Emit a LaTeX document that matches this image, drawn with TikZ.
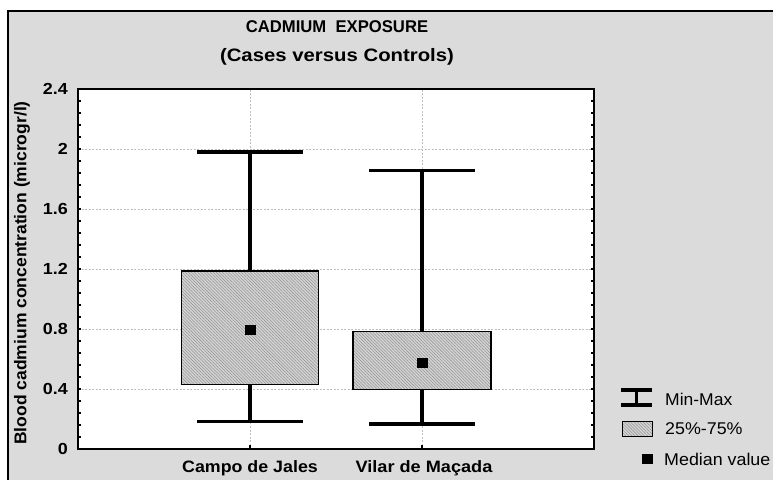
\documentclass[tikz,border=0pt]{standalone}
\usepackage{fontspec}
\setmainfont{Liberation Sans}
\usetikzlibrary{patterns.meta}
\newcommand{\hsc}[2]{\scalebox{#1}[1]{#2}}
\begin{document}
\begin{tikzpicture}[x=1pt,y=1pt,
  axisline/.style={line width=1.8pt},
  gridline/.style={black!25, line width=0.9pt, dash pattern=on 2pt off 1.5pt},
  whisk/.style={line width=3.2pt},
  boxfill/.style={fill=black!17, postaction={pattern={Lines[angle=-45,distance=2.2pt,line width=0.55pt]}, pattern color=black!42}},
  boxline/.style={draw=black, line width=1.6pt},
  medmark/.style={fill=black, draw=black, minimum size=9.5pt, inner sep=0pt, outer sep=0pt},
  ticklab/.style={anchor=east, inner sep=0pt, font=\fontsize{16}{16}\selectfont\bfseries},
  xlab/.style={inner sep=0pt, font=\fontsize{16.5}{16.5}\selectfont\bfseries},
  leglab/.style={anchor=west, inner sep=0pt, font=\fontsize{17}{17}\selectfont},
  titlelab/.style={inner sep=0pt, font=\fontsize{17}{17}\selectfont\bfseries}]
\useasboundingbox (0,0) rectangle (773,479);
\fill[white] (0,0) rectangle (773,479);
\fill[black!14] (8,-5) rectangle (780,468);
\draw[line width=1.8pt] (8,-5) -- (8,468) -- (780,468);
% titles
\node[titlelab] (t1) at (337,452) {\hsc{0.98}{CADMIUM\ \ EXPOSURE}};
\node[titlelab, font=\fontsize{18}{18}\selectfont\bfseries] (t2) at (337,422) {\hsc{1.13}{(Cases versus Controls)}};
% plot area
\fill[white] (78,30) rectangle (594,390);
\foreach \v in {0.4,0.8,1.2,1.6,2.0}
  \draw[gridline] (78,{30+150*\v}) -- (594,{30+150*\v});
\draw[gridline] (250,30) -- (250,390);
\draw[gridline] (422,30) -- (422,390);
\foreach \i in {1,...,29} {
  \draw[line width=1.2pt] (78,{30+12*\i}) -- ++(3,0);
  \draw[line width=1.2pt] (594,{30+12*\i}) -- ++(-3,0);
}
\draw[line width=1.2pt] (250,30) -- ++(0,4);
\draw[line width=1.2pt] (422,30) -- ++(0,4);
% Campo de Jales
\coordinate (cmax) at (250,327);
\coordinate (cmin) at (250,57.5);
\coordinate (ctop) at (250,208);
\coordinate (cbot) at (250,94.5);
\draw[whisk] (cmax) -- (ctop);
\draw[whisk] (cbot) -- (cmin);
\draw[whisk] ([xshift=-53pt]cmax) -- ([xshift=53pt]cmax);
\draw[whisk] ([xshift=-53pt]cmin) -- ([xshift=53pt]cmin);
\path[boxfill] (181.5,94.5) rectangle (318.5,208);
\draw[boxline] (181.5,94.5) rectangle (318.5,208);
\node[medmark] (cmed) at (250,149.5) {};
% Vilar de Macada
\coordinate (vmax) at (422,308.5);
\coordinate (vmin) at (422,55);
\coordinate (vtop) at (422,147.5);
\coordinate (vbot) at (422,89.5);
\draw[whisk] (vmax) -- (vtop);
\draw[whisk] (vbot) -- (vmin);
\draw[whisk] ([xshift=-53pt]vmax) -- ([xshift=53pt]vmax);
\draw[whisk] ([xshift=-53pt]vmin) -- ([xshift=53pt]vmin);
\path[boxfill] (353,89.5) rectangle (491,147.5);
\draw[boxline] (353,89.5) rectangle (491,147.5);
\node[medmark] (vmed) at (422,116.5) {};
% frame
\draw[axisline] (78,30) rectangle (594,390);
% y tick labels
\node[ticklab] (y0) at (68,30) {\hsc{1.12}{0}};
\node[ticklab] (y1) at (68,90) {\hsc{1.12}{0.4}};
\node[ticklab] (y2) at (68,150) {\hsc{1.12}{0.8}};
\node[ticklab] (y3) at (68,210) {\hsc{1.12}{1.2}};
\node[ticklab] (y4) at (68,270) {\hsc{1.12}{1.6}};
\node[ticklab] (y5) at (68,330) {\hsc{1.12}{2}};
\node[ticklab] (y6) at (68,390) {\hsc{1.12}{2.4}};
\node[rotate=90, inner sep=0pt, font=\fontsize{17}{17}\selectfont\bfseries] (ylab) at (22,206) {\hsc{1.03}{Blood cadmium concentration (microgr/l)}};
% x labels
\node[xlab] (x1) at (250,11) {\hsc{1.08}{Campo de Jales}};
\node[xlab] (x2) at (424,11) {\hsc{1.1}{Vilar de Maçada}};
% legend
\coordinate (lt) at (636.5,89);
\coordinate (lb) at (636.5,74);
\draw[whisk] (lt) -- (lb);
\draw[whisk] ([xshift=-15.5pt]lt) -- ([xshift=15.5pt]lt);
\draw[whisk] ([xshift=-15.5pt]lb) -- ([xshift=15.5pt]lb);
\node[leglab] (l1) at (665,80) {\hsc{1.03}{Min-Max}};
\path[boxfill] (622,43) rectangle (652,57);
\draw[line width=1pt] (622,43) rectangle (652,57);
\node[leglab] (l2) at (665,50) {\hsc{1.05}{25\%-75\%}};
\node[medmark] (lm) at (647,20.5) {};
\node[leglab] (l3) at (664,19.5) {\hsc{1.05}{Median value}};
\end{tikzpicture}
\end{document}
